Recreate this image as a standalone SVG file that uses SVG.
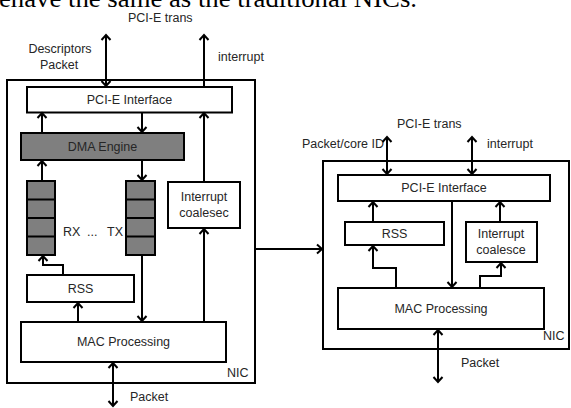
<svg xmlns="http://www.w3.org/2000/svg" width="571" height="408" viewBox="0 0 571 408">
<defs>
<marker id="ah" viewBox="-7 -6 9 12" refX="0" refY="0" markerWidth="9" markerHeight="12" markerUnits="userSpaceOnUse" orient="auto-start-reverse">
<path d="M-5,-4.5 L0,0 L-5,4.5" fill="none" stroke="#000" stroke-width="2"/>
</marker>
<style>
.box{fill:#fff;stroke:#000;stroke-width:2}
.gray{fill:#7f7f7f;stroke:#000;stroke-width:2}
.nic{fill:none;stroke:#000;stroke-width:2}
.t{font-family:"Liberation Sans",Arial,sans-serif;font-size:12.5px;fill:#262626}
.c{text-anchor:middle}
.ln{fill:none;stroke:#000;stroke-width:2}
.a{marker-end:url(#ah)}
.aa{marker-start:url(#ah);marker-end:url(#ah)}
</style>
</defs>
<rect width="571" height="408" fill="#fff"/>
<text x="-1" y="7" font-family="Liberation Serif,'Times New Roman',serif" font-size="26" textLength="418" lengthAdjust="spacingAndGlyphs" fill="#000">ehave the same as the traditional NICs.</text>

<!-- Left NIC -->
<g id="nic-left">
<rect class="nic" x="7" y="80" width="248" height="303"/>
<text class="t" x="227" y="377">NIC</text>
</g>
<g id="pcie-left">
<rect class="box" x="27" y="87" width="205" height="25.5"/>
<text class="t c" x="129.5" y="104">PCI-E Interface</text>
</g>
<g id="dma">
<rect class="gray" x="21" y="133" width="163" height="27"/>
<text class="t c" x="102.5" y="151">DMA Engine</text>
</g>
<g id="rx-queue">
<rect class="gray" x="27" y="181" width="28" height="74"/>
<path class="ln" d="M27,199.5H55M27,218H55M27,236.5H55"/>
</g>
<g id="tx-queue">
<rect class="gray" x="126" y="181" width="29" height="74"/>
<path class="ln" d="M126,199.5H155M126,218H155M126,236.5H155"/>
</g>
<g id="rx-tx-label">
<text class="t" x="63" y="236">RX</text>
<text class="t" x="87" y="236">...</text>
<text class="t" x="107" y="236">TX</text>
</g>
<g id="ic-left">
<rect class="box" x="168" y="182" width="72" height="46"/>
<text class="t c" x="204" y="201">Interrupt</text>
<text class="t c" x="204" y="217">coalesec</text>
</g>
<g id="rss-left">
<rect class="box" x="27" y="275" width="107" height="27"/>
<text class="t c" x="80.5" y="293">RSS</text>
</g>
<g id="mac-left">
<rect class="box" x="21" y="322" width="205" height="40"/>
<text class="t c" x="123.5" y="346">MAC Processing</text>
</g>
<g id="labels-left">
<text class="t" x="128" y="22">PCI-E trans</text>
<text class="t c" x="60" y="53">Descriptors</text>
<text class="t c" x="59" y="69">Packet</text>
<text class="t" x="218" y="61">interrupt</text>
<text class="t" x="130" y="401">Packet</text>
</g>

<!-- Right NIC -->
<g id="nic-right">
<rect class="nic" x="323" y="161" width="246" height="188"/>
<text class="t" x="543" y="340">NIC</text>
</g>
<g id="pcie-right">
<rect class="box" x="338" y="175" width="212" height="26"/>
<text class="t c" x="444" y="192">PCI-E Interface</text>
</g>
<g id="rss-right">
<rect class="box" x="345" y="222" width="99" height="23"/>
<text class="t c" x="394.5" y="238">RSS</text>
</g>
<g id="ic-right">
<rect class="box" x="466" y="222" width="71" height="40"/>
<text class="t c" x="501" y="238">Interrupt</text>
<text class="t c" x="501" y="254">coalesce</text>
</g>
<g id="mac-right">
<rect class="box" x="338" y="288" width="206" height="41"/>
<text class="t c" x="441" y="313">MAC Processing</text>
</g>
<g id="labels-right">
<text class="t" x="397" y="128">PCI-E trans</text>
<text class="t" x="302" y="148">Packet/core ID</text>
<text class="t" x="487" y="148">interrupt</text>
<text class="t" x="461" y="367">Packet</text>
</g>

<g id="connectors">
<!-- left -->
<path class="ln aa" d="M106,35V86"/>
<path class="ln a" d="M204,86V35"/>
<path class="ln a" d="M42,133V113"/>
<path class="ln a" d="M142,113V132"/>
<path class="ln a" d="M42,181V161"/>
<path class="ln a" d="M142,160V180"/>
<path class="ln a" d="M204,182V113"/>
<path class="ln a" d="M204,322V229"/>
<path class="ln a" d="M142,255V321"/>
<path class="ln a" d="M63,275V265H43V256"/>
<path class="ln a" d="M78,322V303"/>
<path class="ln aa" d="M113,363V406"/>
<!-- between -->
<path class="ln a" d="M255,249H322"/>
<!-- right -->
<path class="ln aa" d="M387,137V174"/>
<path class="ln aa" d="M472,137V174"/>
<path class="ln a" d="M373,222V202"/>
<path class="ln a" d="M500,222V202"/>
<path class="ln a" d="M452,201V287"/>
<path class="ln a" d="M396,288V268H373V246"/>
<path class="ln a" d="M480,288V276H501V263"/>
<path class="ln aa" d="M438,330V382"/>
</g>
</svg>
